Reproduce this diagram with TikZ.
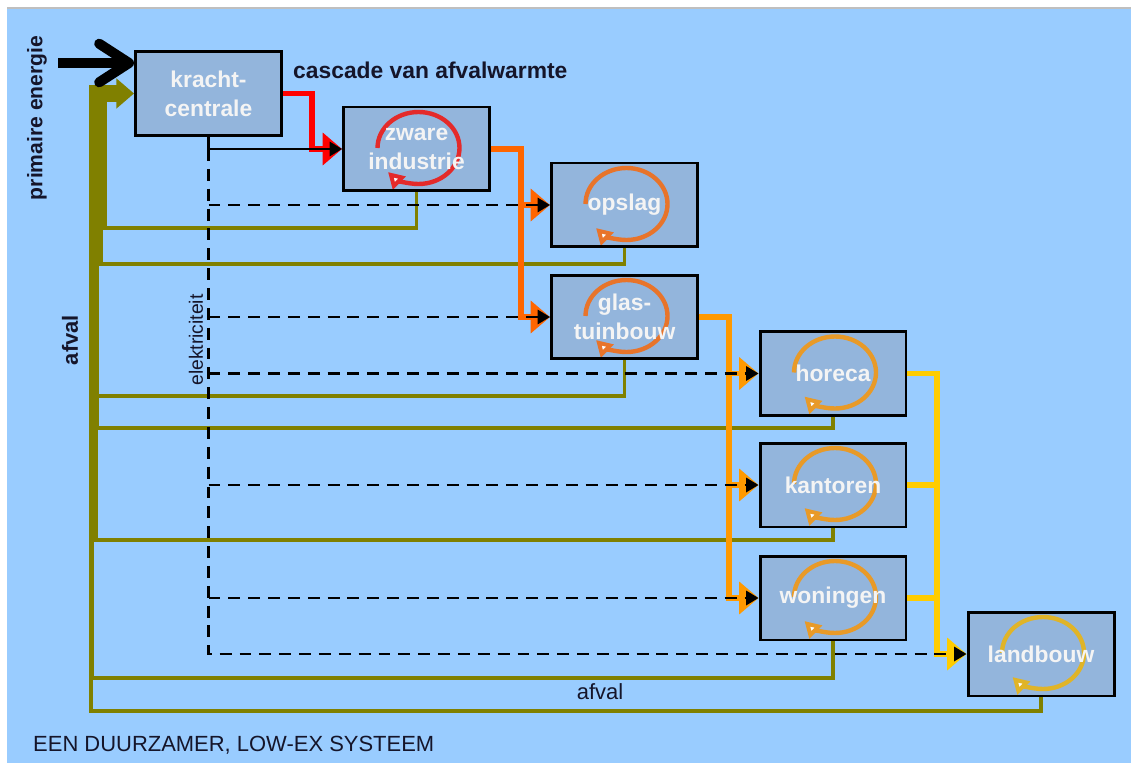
\documentclass[tikz,border=0pt]{standalone}
\usepackage{fontspec}
\setmainfont{Liberation Sans}
\usetikzlibrary{arrows.meta}

\definecolor{achtergrond}{HTML}{99CCFF}
\definecolor{blokblauw}{HTML}{93B5DC}
\definecolor{wittekst}{HTML}{F4F4F4}
\definecolor{afvalgroen}{HTML}{808000}
\definecolor{warmrood}{HTML}{FF0000}
\definecolor{warmoranje}{HTML}{FF6600}
\definecolor{warmlicht}{HTML}{FF9900}
\definecolor{warmgeel}{HTML}{FFCC00}
\definecolor{lusrood}{HTML}{E42A2A}
\definecolor{lusoranje}{HTML}{E8742A}
\definecolor{lusamber}{HTML}{E89A28}
\definecolor{lusgoud}{HTML}{E0B428}
\definecolor{donker}{HTML}{15152A}

\tikzset{
  blok/.style={draw=black,line width=1.7pt,fill=blokblauw,minimum width=2.92cm,
    minimum height=1.68cm,inner sep=0pt,align=center,text=wittekst,
    font=\fontsize{13}{16.4}\selectfont\bfseries},
  lus/.style={path picture={\draw[line width=2.5pt,draw=#1,
      -{Triangle[length=9pt,width=10pt,fill=white]}]
      ([xshift=-0.78cm,yshift=0.02cm]path picture bounding box.center)
      arc[start angle=180,end angle=-138,x radius=0.82cm,y radius=0.72cm];}},
  warmte/.style={draw=#1,line width=3.4pt},
  kop/.style={-{Triangle[length=11pt,width=18pt]}},
  stroom/.style={black,line width=1.5pt,dash pattern=on 6.8pt off 4.5pt,
    -{Triangle[length=7pt,width=8pt]}},
  retour/.style={draw=afvalgroen,line width=2pt},
}

\begin{document}
\begin{tikzpicture}[x=0.02cm,y=-0.02cm]
\useasboundingbox (0,0) rectangle (1131,763);
% achtergrond
\fill[white] (0,0) rectangle (1131,763);
\fill[achtergrond] (7,8) rectangle (1131,763);
\draw[gray!50,line width=0.6pt] (7,8) -- (1131,8);

% blokken
\node[blok] (kc) at (208.5,93.5) {kracht-\\centrale};
\node[blok,lus=lusrood] (zi) at (416.5,149) {zware\\industrie};
\node[blok,lus=lusoranje] (op) at (624.5,205) {opslag};
\node[blok,lus=lusoranje] (gt) at (624.5,317) {glas-\\tuinbouw};
\node[blok,lus=lusamber] (ho) at (833,373.5) {horeca};
\node[blok,lus=lusamber] (ka) at (833,485) {kantoren};
\node[blok,lus=lusamber] (wo) at (833,598) {woningen};
\node[blok,lus=lusgoud] (lb) at (1041,654) {landbouw};

% hulppunten
\coordinate (r1) at (312,0);
\coordinate (o1) at (521,0);
\coordinate (o2) at (729,0);
\coordinate (o3) at (937,0);
\coordinate (pe) at (58,63);

% afval terug
\foreach \n/\y in {zi/228,op/264,gt/396,ho/428,ka/540,wo/678,lb/711}
  \draw[retour] (\n.south) |- (89,\y);
\foreach \x/\a/\b/\w in {91/711/678/2.3,91.5/678/540/2.8,93.5/540/428/5.1,
    94/428/264/5.7,96/264/228/7.9}
  \draw[afvalgroen,line width=\w pt] (\x,\a) -- (\x,\b);
\draw[afvalgroen,line width=10.2pt,-{Triangle[length=10pt,width=16.5pt]}]
  (98,228) |- (kc.west);

% primaire energie
\draw[black,line width=5.7pt,-{Straight Barb[length=17pt,width=22pt,round]}]
  (pe) -- (pe -| kc.west);

% cascade van afvalwarmte
\draw[warmte=warmrood,kop] (kc.east) -| (r1 |- zi.west) -- (zi.west);
\draw[warmte=warmoranje,kop] (zi.east) -| (o1 |- op.west) -- (op.west);
\draw[warmte=warmoranje,kop] (o1 |- op.west) |- (gt.west);
\draw[warmte=warmlicht,kop] (gt.east) -| (o2 |- ho.west) -- (ho.west);
\draw[warmte=warmlicht,kop] (o2 |- ho.west) |- (ka.west);
\draw[warmte=warmlicht,kop] (o2 |- ka.west) |- (wo.west);
\draw[warmte=warmgeel,kop] (ho.east) -| (o3 |- lb.west) -- (lb.west);
\draw[warmte=warmgeel] (ka.east) -- (o3 |- ka.east);
\draw[warmte=warmgeel] (wo.east) -- (o3 |- wo.east);

% elektriciteit
\draw[black,line width=1.5pt,-{Triangle[length=7pt,width=8pt]}]
  (kc.south) |- (zi.west);
\draw[stroom] (kc.south |- zi.west) |- (lb.west);
\foreach \n in {op,gt,ho,ka,wo}
  \draw[stroom] (kc.south |- \n.west) -- (\n.west);

% teksten
\node[anchor=west,text=donker,font=\fontsize{13}{15}\selectfont\bfseries]
  (cascade) at (287,70) {cascade van afvalwarmte};
\node[rotate=90,text=donker,font=\fontsize{12}{14}\selectfont\bfseries]
  (primair) at (37,118) {primaire energie};
\node[rotate=90,text=donker,font=\fontsize{12.5}{14}\selectfont\bfseries]
  (afvallinks) at (70,340) {afval};
\node[rotate=90,text=donker,font=\fontsize{11}{13}\selectfont]
  (elek) at (196,340) {elektriciteit};
\node[text=donker,font=\fontsize{12.5}{14}\selectfont]
  (afvalonder) at (600,692) {afval};
\node[anchor=west,text=donker,font=\fontsize{12.5}{14}\selectfont]
  (titel) at (27,745) {EEN DUURZAMER, LOW-EX SYSTEEM};
\end{tikzpicture}
\end{document}
